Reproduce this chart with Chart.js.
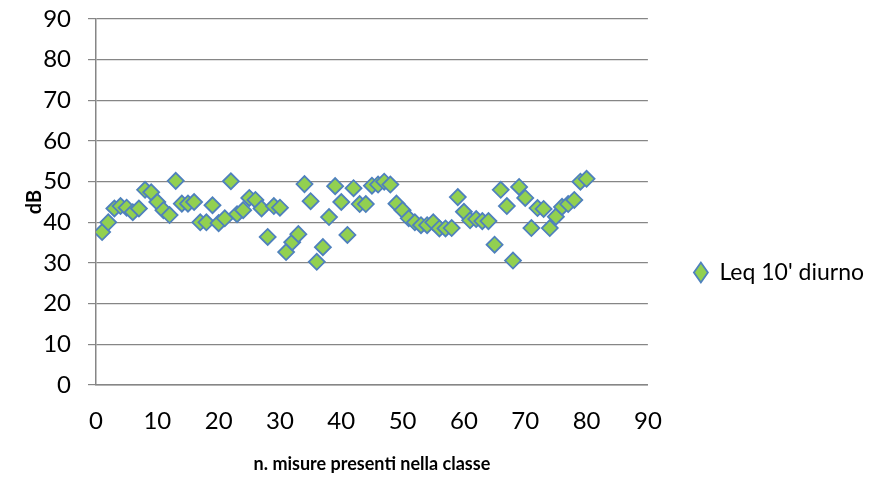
<!DOCTYPE html>
<html>
<head>
<meta charset="utf-8">
<script src="https://cdn.jsdelivr.net/npm/chart.js@4"></script>
<style>
  html, body { margin: 0; padding: 0; background: #fff; }
  #wrap { width: 883px; height: 481px; }
</style>
</head>
<body>
<div id="wrap"><canvas id="myChart" width="883" height="481"></canvas></div>
<script>
// n. misura (1..80) e livello Leq diurno in dB
const misure = [
  1, 2, 3, 4, 5, 6, 7, 8, 9, 10,
  11, 12, 13, 14, 15, 16, 17, 18, 19, 20,
  21, 22, 23, 24, 25, 26, 27, 28, 29, 30,
  31, 32, 33, 34, 35, 36, 37, 38, 39, 40,
  41, 42, 43, 44, 45, 46, 47, 48, 49, 50,
  51, 52, 53, 54, 55, 56, 57, 58, 59, 60,
  61, 62, 63, 64, 65, 66, 67, 68, 69, 70,
  71, 72, 73, 74, 75, 76, 77, 78, 79, 80
];
const leqDiurno = [
  37.6, 40.0, 43.4, 44.0, 43.6, 42.5, 43.4, 48.0, 47.4, 45.0,
  43.0, 41.8, 50.2, 44.6, 44.6, 45.0, 40.0, 40.0, 44.2, 39.8,
  41.0, 50.1, 42.0, 43.0, 46.0, 45.5, 43.4, 36.4, 44.0, 43.6,
  32.7, 35.1, 37.1, 49.4, 45.2, 30.3, 33.9, 41.3, 48.9, 45.0,
  36.9, 48.4, 44.5, 44.5, 49.0, 49.3, 50.0, 49.3, 44.6, 43.0,
  41.0, 40.0, 39.3, 39.3, 40.0, 38.5, 38.5, 38.6, 46.2, 42.6,
  40.5, 40.8, 40.3, 40.3, 34.5, 48.0, 44.0, 30.6, 48.7, 46.0,
  38.6, 43.5, 43.3, 38.6, 41.4, 43.8, 44.5, 45.5, 50.0, 50.7
];
const nomeSerie = "Leq 10' diurno";
const xTicks = { min: 0, max: 90, step: 10 };
const yTicks = { min: 0, max: 90, step: 10 };

const grigio = '#868686';
const fontBase = "Lato, 'Open Sans', sans-serif";

const punti = misure.map((x, i) => ({ x: x, y: leqDiurno[i] }));

const ctx = document.getElementById('myChart').getContext('2d');
new Chart(ctx, {
  type: 'scatter',
  data: {
    datasets: [{
      label: nomeSerie,
      data: punti,
      pointStyle: 'rectRot',
      pointRadius: 8,
      pointHoverRadius: 8,
      pointBorderWidth: 1.8,
      backgroundColor: '#92D050',
      borderColor: '#4F81BD'
    }]
  },
  options: {
    responsive: false,
    animation: false,
    layout: { padding: { left: 23, right: 9, top: 0, bottom: 6 } },
    plugins: {
      tooltip: { enabled: false },
      legend: {
        position: 'right',
        align: 'center',
        maxWidth: 232,
        // titolo vuoto: abbassa la voce della legenda
        title: {
          display: true,
          text: ' ',
          font: { size: 10 },
          padding: { top: 0, bottom: 58 }
        },
        labels: {
          usePointStyle: true,
          pointStyleWidth: 14,
          boxHeight: 14,
          padding: 46,
          color: '#000',
          font: { family: fontBase, size: 23 }
        }
      }
    },
    scales: {
      x: {
        type: 'linear',
        min: xTicks.min,
        max: xTicks.max,
        ticks: {
          stepSize: xTicks.step,
          color: '#000',
          padding: 22,
          font: { family: fontBase, size: 24 }
        },
        grid: { display: true, drawOnChartArea: false, drawTicks: false, color: grigio },
        border: { color: grigio, width: 1.5 },
        title: {
          display: true,
          text: 'n. misure presenti nella classe',
          color: '#000',
          padding: 0,
          font: { family: fontBase, size: 18, weight: 'bold' }
        },
        afterFit: (scale) => { scale.height = 90; }
      },
      y: {
        min: yTicks.min,
        max: yTicks.max,
        ticks: {
          stepSize: yTicks.step,
          color: '#000',
          padding: 17,
          font: { family: fontBase, size: 24 }
        },
        grid: { color: grigio, lineWidth: 1.2, tickLength: 8 },
        border: { color: grigio, width: 1.5 },
        title: {
          display: true,
          text: 'dB',
          color: '#000',
          padding: 0,
          font: { family: fontBase, size: 20, weight: 'bold' }
        },
        afterFit: (scale) => {
          scale.width = 73;
          scale.paddingTop = 19;
        }
      }
    }
  }
});
</script>
</body>
</html>
